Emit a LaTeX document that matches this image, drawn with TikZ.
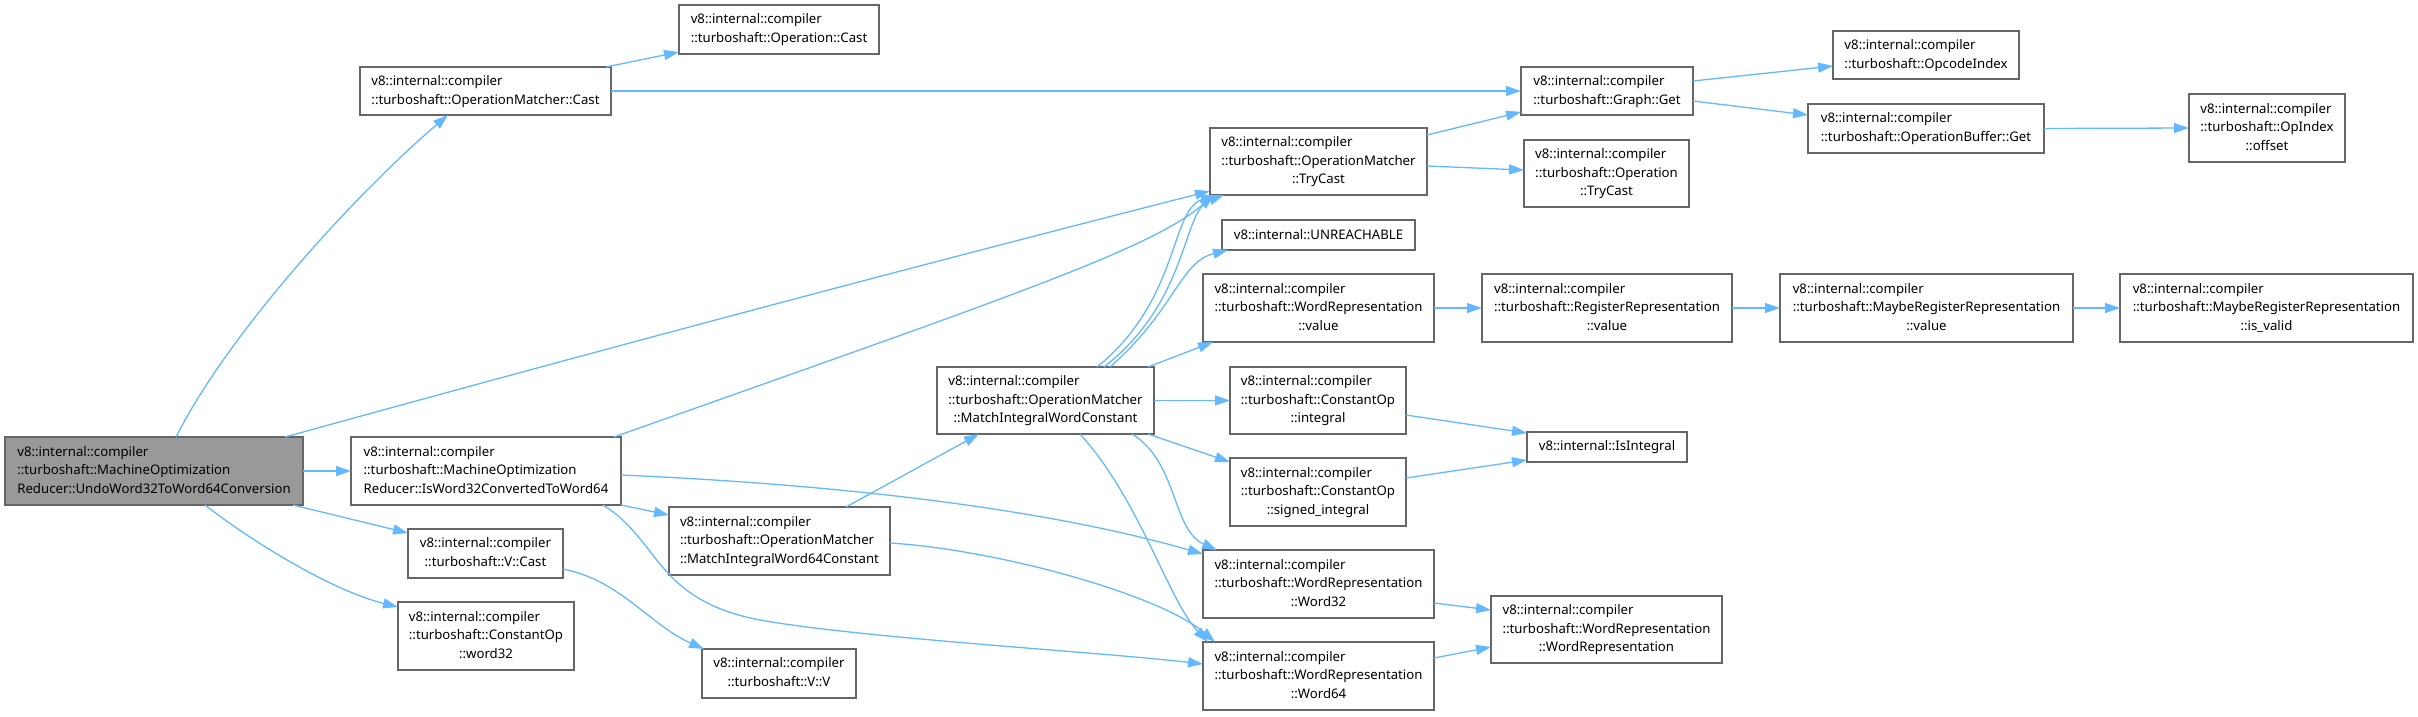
\documentclass[tikz,border=0pt]{standalone}
\usepackage{fontspec}
\setmainfont{Noto Sans}
\usetikzlibrary{arrows.meta,calc}
\definecolor{edgeblue}{HTML}{63B8FF}
\definecolor{boxline}{HTML}{666666}
\definecolor{mainfill}{HTML}{999999}
\newcommand\LblA[1]{#1}
\newcommand\LblB[2]{\begin{tabular}{@{}l@{}}#1\\\multicolumn{1}{@{}c@{}}{#2}\end{tabular}}
\newcommand\LblC[3]{\begin{tabular}{@{}l@{}}#1\\#2\\\multicolumn{1}{@{}c@{}}{#3}\end{tabular}}
\newcommand\vic{v8::internal::compiler}
\tikzset{
  fn/.style={draw=boxline, line width=1.3pt, fill=white, inner sep=0pt, outer sep=0pt,
    font=\fontsize{13.2}{18.7}\selectfont, text=black},
  mainfn/.style={fn, fill=mainfill},
  call/.style={draw=edgeblue, line width=1.3pt, -{Triangle[length=15pt,width=10pt]}}
}
\begin{document}
\begin{tikzpicture}[x=1pt,y=-1pt]
\useasboundingbox (0,0) rectangle (2418,716);
% nodes
\node[mainfn, minimum width=298pt, minimum height=68pt] (main) at (154,471)
  {\LblC{\vic}{::turboshaft::MachineOptimization}{Reducer::UndoWord32ToWord64Conversion}};
\node[fn, minimum width=251pt, minimum height=48pt] (omcast) at (485.5,91)
  {\LblB{\vic}{::turboshaft::OperationMatcher::Cast}};
\node[fn, minimum width=200pt, minimum height=49pt] (opcast) at (779,29.5)
  {\LblB{\vic}{::turboshaft::Operation::Cast}};
\node[fn, minimum width=270pt, minimum height=68pt] (isw32) at (486,471)
  {\LblC{\vic}{::turboshaft::MachineOptimization}{Reducer::IsWord32ConvertedToWord64}};
\node[fn, minimum width=155pt, minimum height=49pt] (vcast) at (485.5,553.5)
  {\LblB{\vic}{::turboshaft::V::Cast}};
\node[fn, minimum width=176pt, minimum height=68pt] (cword32) at (486,636)
  {\LblC{\vic}{::turboshaft::ConstantOp}{::word32}};
\node[fn, minimum width=221pt, minimum height=68pt] (miw64) at (779.5,541)
  {\LblC{\vic}{::turboshaft::OperationMatcher}{::MatchIntegralWord64Constant}};
\node[fn, minimum width=154pt, minimum height=49pt] (vv) at (779,673.5)
  {\LblB{\vic}{::turboshaft::V::V}};
\node[fn, minimum width=217pt, minimum height=67pt] (miwc) at (1045.5,400.5)
  {\LblC{\vic}{::turboshaft::OperationMatcher}{::MatchIntegralWordConstant}};
\node[fn, minimum width=217pt, minimum height=67pt] (trycast) at (1318.5,161.5)
  {\LblC{\vic}{::turboshaft::OperationMatcher}{::TryCast}};
\node[fn, minimum width=193pt, minimum height=30pt] (unreach) at (1318.5,235)
  {\LblA{v8::internal::UNREACHABLE}};
\node[fn, minimum width=231pt, minimum height=68pt] (wrvalue) at (1318.5,308)
  {\LblC{\vic}{::turboshaft::WordRepresentation}{::value}};
\node[fn, minimum width=176pt, minimum height=67pt] (cint) at (1318,400.5)
  {\LblC{\vic}{::turboshaft::ConstantOp}{::integral}};
\node[fn, minimum width=176pt, minimum height=68pt] (csint) at (1318,492)
  {\LblC{\vic}{::turboshaft::ConstantOp}{::signed\_integral}};
\node[fn, minimum width=231pt, minimum height=68pt] (w32) at (1318.5,584)
  {\LblC{\vic}{::turboshaft::WordRepresentation}{::Word32}};
\node[fn, minimum width=231pt, minimum height=68pt] (w64) at (1318.5,676)
  {\LblC{\vic}{::turboshaft::WordRepresentation}{::Word64}};
\node[fn, minimum width=172pt, minimum height=48pt] (gget) at (1607,91)
  {\LblB{\vic}{::turboshaft::Graph::Get}};
\node[fn, minimum width=165pt, minimum height=67pt] (optry) at (1606.5,173.5)
  {\LblC{\vic}{::turboshaft::Operation}{::TryCast}};
\node[fn, minimum width=250pt, minimum height=68pt] (regval) at (1607,308)
  {\LblC{\vic}{::turboshaft::RegisterRepresentation}{::value}};
\node[fn, minimum width=160pt, minimum height=30pt] (isint) at (1607,447)
  {\LblA{v8::internal::IsIntegral}};
\node[fn, minimum width=231pt, minimum height=67pt] (wrwr) at (1606.5,629.5)
  {\LblC{\vic}{::turboshaft::WordRepresentation}{::WordRepresentation}};
\node[fn, minimum width=186pt, minimum height=48pt] (opcidx) at (1926,55)
  {\LblB{\vic}{::turboshaft::OpcodeIndex}};
\node[fn, minimum width=236pt, minimum height=49pt] (obget) at (1926,128.5)
  {\LblB{\vic}{::turboshaft::OperationBuffer::Get}};
\node[fn, minimum width=156pt, minimum height=68pt] (offset) at (2267,128)
  {\LblC{\vic}{::turboshaft::OpIndex}{::offset}};
\node[fn, minimum width=293pt, minimum height=68pt] (mrval) at (1926.5,308)
  {\LblC{\vic}{::turboshaft::MaybeRegisterRepresentation}{::value}};
\node[fn, minimum width=293pt, minimum height=68pt] (mrvalid) at (2266.5,308)
  {\LblC{\vic}{::turboshaft::MaybeRegisterRepresentation}{::is\_valid}};
% edges from main
\draw[call] ($(main.north west)+(171,0)$) .. controls (230,330) and (360,190) .. ($(omcast.south west)+(88,0)$);
\draw[call] ($(main.north west)+(280,0)$) .. controls (600,350) and (900,270) .. ($(trycast.south west)+(0,-4)$);
\draw[call] (main.east) -- (isw32.west);
\draw[call] ($(main.south east)+(-10,0)$) -- ($(vcast.north west)+(0,4)$);
\draw[call] ($(main.south west)+(200,0)$) .. controls (250,540) and (330,590) .. ($(cword32.north west)+(0,5)$);
% omcast
\draw[call] ($(omcast.north east)+(-5,0)$) -- ($(opcast.south west)+(0,-2)$);
\draw[call] (omcast.east) -- (gget.west);
% isw32
\draw[call] ($(isw32.north east)+(-7,0)$) .. controls (1000,300) and (1150,250) .. ($(trycast.south west)+(4,0)$);
\draw[call] (isw32.south east) -- ($(miw64.north west)+(0,8)$);
\draw[call] ($(isw32.east)+(0,4)$) .. controls (850,485) and (1050,510) .. ($(w32.north west)+(0,4)$);
\draw[call] ($(isw32.south east)+(-18,0)$) .. controls (660,540) and (655,600) .. (760,620)
  .. controls (860,638) and (1100,652) .. ($(w64.north west)+(0,22)$);
% miw64
\draw[call] ($(miw64.north east)+(-44,0)$) -- ($(miwc.south west)+(42,0)$);
\draw[call] ($(miw64.east)+(0,2)$) .. controls (1000,550) and (1160,595) .. ($(w64.north west)+(12,0)$);
% vcast
\draw[call] ($(vcast.south east)+(0,-9)$) .. controls (620,580) and (650,625) .. ($(vv.north west)+(2,0)$);
% miwc
\draw[call] ($(miwc.north west)+(160,0)$) .. controls (1180,300) and (1170,210) .. ($(trycast.south west)+(6,0)$);
\draw[call] ($(miwc.north west)+(167,0)$) .. controls (1190,300) and (1182,210) .. ($(trycast.south west)+(14,0)$);
\draw[call] ($(miwc.north west)+(173,0)$) .. controls (1175,310) and (1180,262) .. ($(unreach.south west)+(6,0)$);
\draw[call] ($(miwc.north east)+(-6,0)$) -- ($(wrvalue.south west)+(10,0)$);
\draw[call] (miwc.east) -- (cint.west);
\draw[call] ($(miwc.south east)+(-6,0)$) -- ($(csint.north west)+(0,4)$);
\draw[call] ($(miwc.south east)+(-22,0)$) .. controls (1178,462) and (1172,530) .. ($(w32.north west)+(14,0)$);
\draw[call] ($(miwc.south west)+(143,0)$) .. controls (1140,500) and (1168,600) .. ($(w64.north west)+(5,0)$);
% trycast
\draw[call] ($(trycast.north east)+(0,7)$) -- ($(gget.south west)+(0,-3)$);
\draw[call] ($(trycast.north east)+(0,38)$) -- ($(optry.north west)+(0,30)$);
% representation chain
\draw[call] (wrvalue.east) -- (regval.west);
\draw[call] (regval.east) -- (mrval.west);
\draw[call] (mrval.east) -- (mrvalid.west);
% integral
\draw[call] ($(cint.north east)+(0,48)$) -- ($(isint.north west)+(0,1)$);
\draw[call] ($(csint.north east)+(0,20)$) -- ($(isint.south west)+(0,-2)$);
% word rep
\draw[call] ($(w32.north east)+(0,53)$) -- ($(wrwr.north west)+(0,14)$);
\draw[call] ($(w64.north east)+(0,16)$) -- ($(wrwr.south west)+(0,-16)$);
% graph get
\draw[call] ($(gget.north east)+(0,14)$) -- ($(opcidx.north west)+(0,35)$);
\draw[call] ($(gget.north east)+(0,34)$) -- ($(obget.north west)+(0,11)$);
\draw[call] (obget.east) -- (offset.west);
\end{tikzpicture}
\end{document}
